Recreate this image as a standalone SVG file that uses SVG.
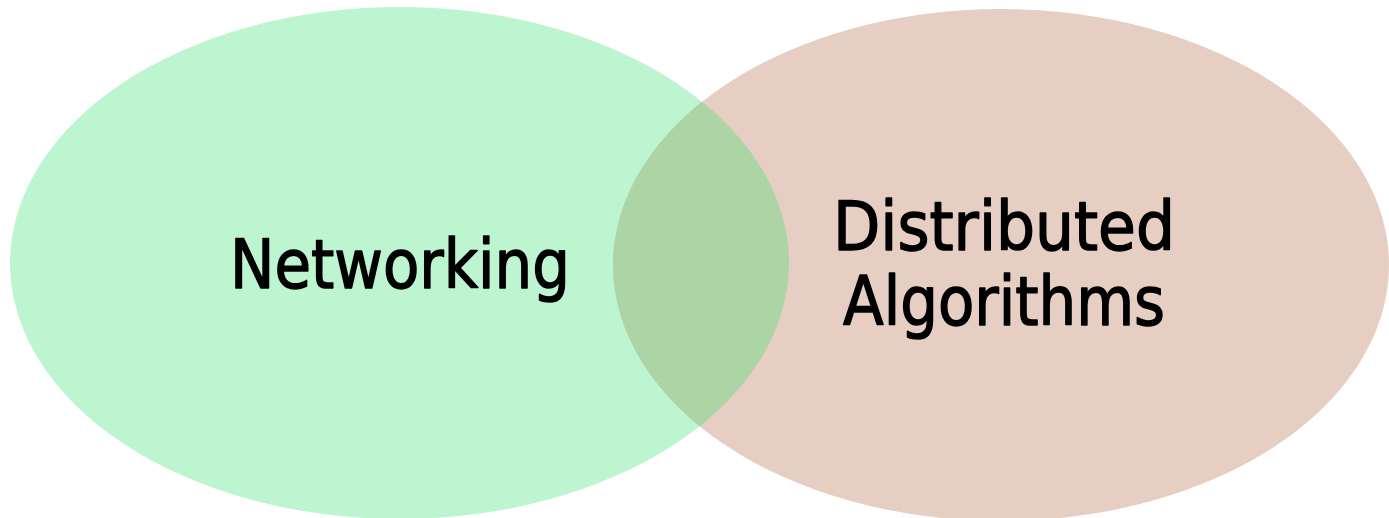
<svg xmlns="http://www.w3.org/2000/svg" width="1389" height="518" viewBox="0 0 1389 518">
  <style>
    .label { font-family: "Comic Sans MS", "DejaVu Sans", sans-serif; font-size: 68px; fill: #000000; stroke: #000000; stroke-width: 1.5; stroke-linejoin: round; text-anchor: middle; }
  </style>
  <defs>
    <clipPath id="clip-right">
      <ellipse cx="1001" cy="265" rx="388" ry="256"/>
    </clipPath>
  </defs>
  <rect width="1389" height="518" fill="#ffffff"/>
  <g id="networking">
    <ellipse cx="399.5" cy="263" rx="389.5" ry="256" fill="#bdf5d1"/>
  </g>
  <g id="distributed-algorithms">
    <ellipse cx="1001" cy="265" rx="388" ry="256" fill="#e6cec2"/>
  </g>
  <!-- shared region of the two sets -->
  <g id="overlap">
    <ellipse cx="399.5" cy="263" rx="389.5" ry="256" fill="#acd4a4" clip-path="url(#clip-right)"/>
  </g>
  <g id="labels">
    <text class="label" x="400" y="288" textLength="340" lengthAdjust="spacingAndGlyphs">Networking</text>
    <text class="label" x="1004" y="250" textLength="342" lengthAdjust="spacingAndGlyphs">Distributed</text>
    <text class="label" x="1004" y="325" textLength="322" lengthAdjust="spacingAndGlyphs">Algorithms</text>
  </g>
  <g id="connectors"/>
</svg>
